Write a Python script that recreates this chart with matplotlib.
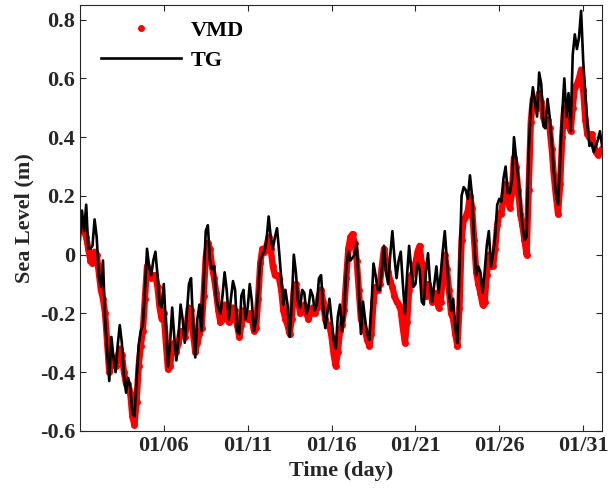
import matplotlib
matplotlib.use("Agg")
import matplotlib.pyplot as plt
import numpy as np

# sea level, 3-hourly samples starting 01/01 00:00 (m)
tg = [0.05, 0.15, 0.08, 0.17, 0.02, 0.02, 0.03, 0.12,
      0.06, -0.07, -0.11, -0.02, -0.22, -0.33, -0.43, -0.28,
      -0.35, -0.40, -0.31, -0.24, -0.30, -0.41, -0.47, -0.42,
      -0.45, -0.54, -0.55, -0.43, -0.31, -0.26, -0.24, -0.12,
      0.02, -0.04, -0.07, -0.02, 0.01, -0.07, -0.17, -0.18,
      -0.10, -0.24, -0.38, -0.30, -0.18, -0.28, -0.36, -0.28,
      -0.17, -0.22, -0.30, -0.20, -0.10, -0.08, -0.24, -0.35,
      -0.22, -0.17, -0.26, -0.10, 0.08, 0.10, -0.02, -0.05,
      -0.04, -0.15, -0.18, -0.20, -0.14, -0.06, -0.12, -0.22,
      -0.15, -0.09, -0.12, -0.26, -0.27, -0.14, -0.12, -0.22,
      -0.18, -0.10, -0.16, -0.26, -0.22, -0.12, -0.02, 0.00,
      0.01, 0.05, 0.13, 0.06, 0.02, 0.06, 0.09, 0.01,
      -0.08, -0.17, -0.12, -0.17, -0.28, -0.17, 0.00, -0.06,
      -0.16, -0.18, -0.12, -0.13, -0.20, -0.18, -0.12, -0.14,
      -0.19, -0.17, -0.08, -0.07, -0.18, -0.25, -0.20, -0.15,
      -0.22, -0.29, -0.32, -0.21, -0.17, -0.26, -0.20, -0.05,
      0.01, -0.02, -0.01, 0.00, 0.04, -0.12, -0.27, -0.16,
      -0.22, -0.27, -0.29, -0.18, -0.03, -0.07, -0.12, -0.12,
      -0.05, 0.03, -0.06, -0.10, 0.00, 0.08, -0.01, -0.08,
      -0.02, 0.01, -0.10, -0.20, -0.07, 0.03, -0.05, -0.11,
      -0.10, -0.03, -0.05, -0.16, -0.17, -0.06, 0.005, -0.10,
      -0.16, -0.10, -0.04, -0.13, -0.07, 0.01, 0.08, -0.02,
      -0.13, -0.19, -0.15, -0.25, -0.30, -0.05, 0.20, 0.23,
      0.22, 0.19, 0.27, 0.20, 0.04, -0.07, -0.04, -0.06,
      -0.13, -0.06, 0.03, 0.08, -0.04, 0.00, 0.06, 0.17,
      0.19, 0.18, 0.26, 0.30, 0.21, 0.21, 0.25, 0.40,
      0.33, 0.26, 0.18, 0.10, 0.05, 0.06, 0.35, 0.50,
      0.57, 0.52, 0.47, 0.62, 0.58, 0.44, 0.43, 0.53,
      0.47, 0.38, 0.28, 0.21, 0.17, 0.32, 0.48, 0.60,
      0.47, 0.55, 0.42, 0.68, 0.75, 0.70, 0.74, 0.83,
      0.66, 0.55, 0.44, 0.37, 0.38, 0.35, 0.37, 0.39,
      0.42, 0.37]

vmd = [0.10, 0.10, 0.08, 0.06, 0.02, -0.02, -0.03, 0.01,
       0.00, -0.06, -0.12, -0.15, -0.20, -0.30, -0.40, -0.36,
       -0.35, -0.38, -0.35, -0.32, -0.34, -0.40, -0.44, -0.44,
       -0.47, -0.55, -0.58, -0.50, -0.38, -0.31, -0.26, -0.15,
       -0.04, -0.06, -0.08, -0.07, -0.07, -0.11, -0.18, -0.22,
       -0.20, -0.30, -0.39, -0.38, -0.31, -0.30, -0.33, -0.30,
       -0.26, -0.27, -0.28, -0.24, -0.18, -0.19, -0.27, -0.33,
       -0.30, -0.27, -0.25, -0.14, -0.01, 0.04, 0.02, -0.04,
       -0.08, -0.13, -0.19, -0.23, -0.22, -0.17, -0.18, -0.23,
       -0.22, -0.18, -0.19, -0.24, -0.28, -0.24, -0.19, -0.21,
       -0.22, -0.20, -0.22, -0.26, -0.25, -0.15, -0.03, 0.02,
       0.01, 0.03, 0.06, 0.02, -0.04, -0.07, -0.07, -0.08,
       -0.12, -0.19, -0.22, -0.24, -0.27, -0.22, -0.12, -0.10,
       -0.15, -0.20, -0.19, -0.17, -0.20, -0.22, -0.20, -0.18,
       -0.20, -0.18, -0.14, -0.12, -0.16, -0.22, -0.24, -0.24,
       -0.28, -0.34, -0.38, -0.33, -0.26, -0.24, -0.19, -0.08,
       0.02, 0.06, 0.07, 0.04, -0.02, -0.12, -0.22, -0.24,
       -0.26, -0.29, -0.31, -0.27, -0.16, -0.11, -0.12, -0.10,
       -0.04, 0.02, -0.02, -0.06, -0.09, -0.11, -0.14, -0.16,
       -0.17, -0.19, -0.25, -0.30, -0.23, -0.12, -0.07, -0.06,
       -0.03, 0.01, 0.03, -0.03, -0.12, -0.14, -0.10, -0.12,
       -0.16, -0.15, -0.13, -0.18, -0.16, -0.08, 0.00, -0.05,
       -0.12, -0.20, -0.22, -0.27, -0.31, -0.18, 0.05, 0.12,
       0.13, 0.15, 0.20, 0.16, 0.05, -0.06, -0.10, -0.13,
       -0.17, -0.16, -0.07, 0.00, -0.04, -0.04, 0.02, 0.10,
       0.14, 0.14, 0.20, 0.24, 0.19, 0.16, 0.21, 0.33,
       0.30, 0.22, 0.14, 0.10, 0.05, 0.00, 0.22, 0.45,
       0.53, 0.53, 0.50, 0.55, 0.52, 0.47, 0.44, 0.46,
       0.43, 0.36, 0.27, 0.20, 0.14, 0.24, 0.40, 0.50,
       0.44, 0.45, 0.42, 0.50, 0.57, 0.58, 0.60, 0.63,
       0.56, 0.46, 0.41, 0.40, 0.41, 0.38, 0.35, 0.34,
       0.35, 0.36]

days = np.arange(len(tg)) * 0.125
tick_days = [5, 10, 15, 20, 25, 30]
tick_labels = ["01/06", "01/11", "01/16", "01/21", "01/26", "01/31"]
y_ticks = [-0.6, -0.4, -0.2, 0, 0.2, 0.4, 0.6, 0.8]
y_labels = ["-0.6", "-0.4", "-0.2", "0", "0.2", "0.4", "0.6", "0.8"]

plt.rcParams["font.family"] = ["Liberation Serif", "DejaVu Serif"]
plt.rcParams["font.weight"] = "bold"

fig = plt.figure(figsize=(6.10, 4.97), dpi=100)
ax = fig.add_axes([0.131, 0.133, 0.856, 0.857])

# dense VMD dots: band under the markers so the red trace reads as continuous
ax.plot(days, vmd, "-", color="red", lw=4.6, solid_capstyle="round", solid_joinstyle="round")
ax.plot(days, vmd, "o", color="red", ms=5, mec="none", label="VMD")
ax.plot(days, tg, "-", color="black", lw=1.9, label="TG")

ax.set_xlim(0, days[-1])
ax.set_ylim(-0.6, 0.85)
ax.set_xticks(tick_days)
ax.set_xticklabels(tick_labels)
ax.set_yticks(y_ticks)
ax.set_yticklabels(y_labels)
ax.tick_params(direction="in", top=True, right=True, labelsize=16, length=4, width=0.8, colors="#262626")
for lab in ax.get_xticklabels() + ax.get_yticklabels():
    lab.set_fontweight("bold")
for s in ax.spines.values():
    s.set_color("#262626"); s.set_linewidth(0.8)

ax.set_xlabel("Time (day)", fontsize=16, fontweight="bold", color="#262626")
ax.set_ylabel("Sea Level (m)", fontsize=16, fontweight="bold", color="#262626")

ax.legend(loc="upper left", frameon=False, handlelength=3.6, handletextpad=0.45,
          prop={"size": 16, "weight": "bold"}, borderaxespad=0.3, labelspacing=0.4,
          bbox_to_anchor=(0.01, 1.0))

plt.savefig("out.png", dpi=100)
